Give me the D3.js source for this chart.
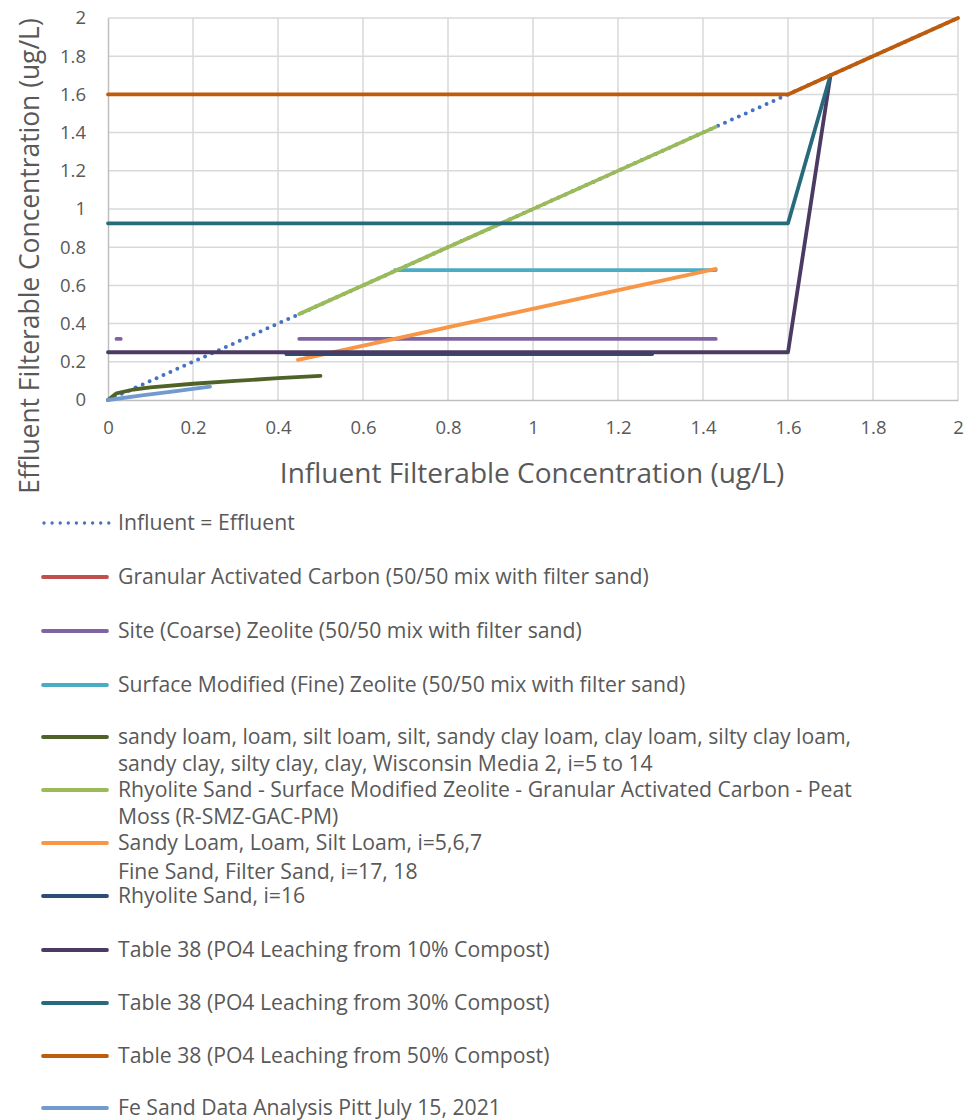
<!DOCTYPE html>
<html><head><meta charset="utf-8">
<script src="https://cdn.jsdelivr.net/npm/d3@7"></script>
<style>body{margin:0;background:#fff}svg{display:block}text{font-family:"Open Sans",Lato,sans-serif;fill:#595959}</style>
</head><body><svg id="c" width="977" height="1120"></svg>
<script>
// ---- data ----
const xTicks = [0,0.2,0.4,0.6,0.8,1,1.2,1.4,1.6,1.8,2];
const yTicks = [0,0.2,0.4,0.6,0.8,1,1.2,1.4,1.6,1.8,2];
const xTitle = "Influent Filterable Concentration (ug/L)";
const yTitle = "Effluent Filterable Concentration (ug/L)";

const influentEqualsEffluent = [[0,0],[2,2]];
const gacMix = [];
const siteZeoliteA = [[0.02,0.32],[0.03,0.32]];
const siteZeoliteB = [[0.45,0.32],[1.43,0.32]];
const smzFine = [[0.675,0.68],[1.43,0.68]];
const soilsI5to14 = [[0,0],[0.02,0.035],[0.06,0.055],[0.1,0.066],[0.2,0.085],[0.3,0.1],[0.4,0.114],[0.5,0.126]];
const rSmzGacPm = [[0.45,0.45],[1.43,1.43]];
const sandyLoamI567 = [[0.447,0.21],[1.43,0.686]];
const fineFilterSand = [];
const rhyoliteI16 = [[0.42,0.24],[1.28,0.24]];
const compost10 = [[0,0.25],[1.6,0.25],[1.7,1.7]];
const compost30 = [[0,0.925],[1.6,0.925],[1.7,1.7]];
const compost50 = [[0,1.6],[1.6,1.6],[1.7,1.7],[2,2]];
const feSandPitt = [[0,0],[0.08,0.024],[0.16,0.047],[0.24,0.07]];

const seriesNames = [
  ["Influent = Effluent"],
  ["Granular Activated Carbon (50/50 mix with filter sand)"],
  ["Site (Coarse) Zeolite (50/50 mix with filter sand)"],
  ["Surface Modified (Fine) Zeolite (50/50 mix with filter sand)"],
  ["sandy loam, loam, silt loam, silt, sandy clay loam, clay loam, silty clay loam,","sandy clay, silty clay, clay, Wisconsin Media 2, i=5 to 14"],
  ["Rhyolite Sand - Surface Modified Zeolite - Granular Activated Carbon - Peat","Moss (R-SMZ-GAC-PM)"],
  ["Sandy Loam, Loam, Silt Loam, i=5,6,7"],
  ["Fine Sand, Filter Sand, i=17, 18"],
  ["Rhyolite Sand, i=16"],
  ["Table 38 (PO4 Leaching from 10% Compost)"],
  ["Table 38 (PO4 Leaching from 30% Compost)"],
  ["Table 38 (PO4 Leaching from 50% Compost)"],
  ["Fe Sand Data Analysis Pitt July 15, 2021"]
];
const seriesData = [
  [influentEqualsEffluent],[gacMix],[siteZeoliteA,siteZeoliteB],[smzFine],[soilsI5to14],
  [rSmzGacPm],[sandyLoamI567],[fineFilterSand],[rhyoliteI16],[compost10],[compost30],[compost50],[feSandPitt]
];
const seriesColors = ["#4472C4","#C0504D","#8064A2","#4BACC6","#4F6228","#9BBB59","#F79646",null,"#2C4D75","#4B3A62","#276A7C","#BE5C0C","#729ACF"];

// ---- layout ----
const svg = d3.select("#c");
const L = 108, R = 958, T = 18, B = 400;
const x = d3.scaleLinear().domain([0,2]).range([L,R]);
const y = d3.scaleLinear().domain([0,2]).range([B,T]);

// grid
svg.append("g").selectAll("line").data(xTicks.slice(1)).join("line")
  .attr("x1",d=>x(d)).attr("x2",d=>x(d)).attr("y1",T).attr("y2",B)
  .attr("stroke","#D9D9D9").attr("stroke-width",1.5);
svg.append("g").selectAll("line").data(yTicks.slice(1)).join("line")
  .attr("x1",L).attr("x2",R).attr("y1",d=>y(d)).attr("y2",d=>y(d))
  .attr("stroke","#D9D9D9").attr("stroke-width",1.5);

// axes
const xAxis = svg.append("g").attr("transform",`translate(0,${B})`)
  .call(d3.axisBottom(x).tickValues(xTicks).tickFormat(d3.format("")).tickSize(0).tickPadding(21));
xAxis.select(".domain").attr("stroke","#BFBFBF").attr("stroke-width",1.5);
xAxis.selectAll("text").style("font-size","18.5px").attr("fill","#595959").attr("font-family","Open Sans");
const yAxis = svg.append("g").attr("transform",`translate(${L},0)`)
  .call(d3.axisLeft(y).tickValues(yTicks).tickFormat(d3.format("")).tickSize(0).tickPadding(22));
yAxis.select(".domain").attr("stroke","#BFBFBF").attr("stroke-width",1.5);
yAxis.selectAll("text").style("font-size","18.5px").attr("fill","#595959").attr("font-family","Open Sans");

svg.append("text").attr("x",532).attr("y",483).attr("text-anchor","middle")
  .style("font-size","28px").text(xTitle);
svg.append("text").attr("transform","translate(39,256) rotate(-90)").attr("text-anchor","middle")
  .style("font-size","26.4px").text(yTitle);

// series
const line = d3.line().x(d=>x(d[0])).y(d=>y(d[1]));
seriesData.forEach((segs,i)=>{
  if(!seriesColors[i]) return;
  segs.forEach(seg=>{
    if(!seg.length) return;
    const p = svg.append("path").attr("d",line(seg)).attr("fill","none")
      .attr("stroke",seriesColors[i]).attr("stroke-width",i===0?4:3.8)
      .attr("stroke-linecap","round").attr("stroke-linejoin","round");
    if(i===0) p.attr("stroke-dasharray","0,7.6");
  });
});

// legend
const legendY = [523,577,631,685,737,790,843,872,896,950,1003,1056,1108];
const lineGap = 27;
seriesNames.forEach((lines,i)=>{
  const yy = legendY[i];
  if(seriesColors[i]){
    const l = svg.append("line").attr("x1",43).attr("x2",107).attr("y1",yy).attr("y2",yy)
      .attr("stroke",seriesColors[i]).attr("stroke-width",i===0?3.4:3.8)
      .attr("stroke-linecap","round");
    if(i===0) l.attr("x1",44).attr("x2",109).attr("stroke-dasharray","0,8.1");
  }
  lines.forEach((t,k)=>{
    svg.append("text").attr("x",118).attr("y",yy+k*lineGap).attr("dy","0.35em")
      .style("font-size","21.2px").text(t);
  });
});
</script></body></html>
